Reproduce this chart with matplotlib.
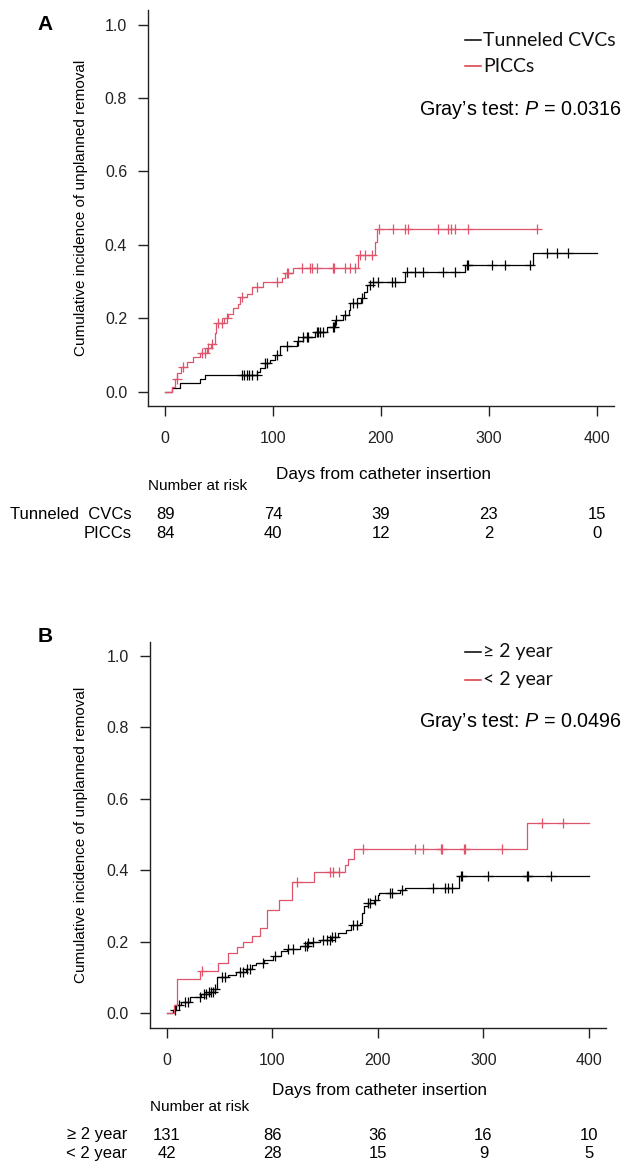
import numpy as np
import matplotlib
matplotlib.use("Agg")
import matplotlib.pyplot as plt
from matplotlib.lines import Line2D
from matplotlib.transforms import blended_transform_factory

plt.rcParams['font.family'] = ['Liberation Sans', 'DejaVu Sans']
plt.rcParams['mathtext.fontset'] = 'custom'
plt.rcParams['mathtext.rm'] = 'Liberation Sans'
plt.rcParams['mathtext.it'] = 'Liberation Sans:italic'

# ---------------- data ----------------
x_ticks = [0, 100, 200, 300, 400]
y_ticks = [0.0, 0.2, 0.4, 0.6, 0.8, 1.0]

# Panel A: Tunneled CVCs (black)
a_cvc_t = [0, 6, 14, 32, 37, 85, 88, 92.5, 97, 102, 106, 122, 128, 139, 150, 157,
           165, 170, 171.5, 181, 184, 187, 190, 222, 278, 341]
a_cvc_v = [0, .011, .023, .034, .046, .054, .064, .077, .086, .100, .124, .139, .150,
           .163, .177, .195, .209, .223, .243, .254, .272, .291, .300, .325, .345, .377]
a_cvc_end = 400
a_cvc_cens = [71, 73, 75.5, 78, 80, 84.8, 92.5, 94, 103.3, 112.6, 123.4, 128, 131, 132.6,
              140.4, 141.9, 143.4, 146.5, 155.8, 156.7, 157.9, 166.7, 174.4, 177.5, 182.2,
              189.9, 193, 197.6, 210, 213, 223.9, 231.6, 239.3, 257.9, 268.7, 279.5, 281,
              302.7, 315, 338.2, 353.7, 363, 373.8]

# Panel A: PICCs (red)
a_picc_t = [0, 6, 9, 11, 15, 20.4, 26, 32, 38.4, 42, 46, 47, 54, 58.5, 63, 67, 69.5,
            75.5, 80, 91, 108, 111, 118, 179, 194.5, 196]
a_picc_v = [0, .012, .036, .050, .068, .082, .094, .106, .118, .130, .159, .186, .200,
            .213, .227, .240, .257, .265, .286, .300, .309, .323, .336, .372, .409, .443]
a_picc_end = 346
a_picc_cens = [10.5, 16.7, 33.7, 36.8, 40, 43, 49.2, 52.3, 57, 70.9, 84.8, 103.3, 112.6,
               114, 126.5, 134.2, 135.7, 140.4, 155.2, 156.5, 166.7, 171.3, 175.9, 180.6,
               185.2, 191.4, 198.5, 210.9, 222.3, 225.4, 252.6, 262.5, 265, 268.7, 281, 344.4]

# Panel B: >= 2 year (black)
b_old_t = [0, 6, 9, 14, 22, 33, 40, 46, 48, 58, 66, 75, 81, 85, 92, 101, 108, 114, 126,
           133, 139, 145, 156, 162, 170, 175, 183, 185, 187, 191, 196, 200, 201, 221, 226, 277]
b_old_v = [0, .008, .023, .031, .046, .055, .061, .069, .102, .107, .116, .125, .135, .140,
           .149, .159, .173, .179, .187, .196, .200, .205, .214, .224, .233, .247, .252,
           .280, .299, .308, .317, .331, .336, .345, .352, .385]
b_old_end = 400
b_old_cens = [8, 12, 17.5, 20.6, 31.6, 35, 37, 40, 42, 44, 46, 52, 55, 69.5, 72.6, 75.8, 79,
              91.6, 102.6, 115, 120, 131, 132.6, 134.2, 139, 148.4, 151.6, 154.7, 156.3,
              159.4, 176.8, 180, 191, 192.6, 197, 211.5, 213, 222.5, 252.5, 263.5, 266.7,
              269.8, 278.4, 280, 304.6, 341, 342.5, 363.6]

# Panel B: < 2 year (red)
b_young_t = [0, 7, 10, 31.6, 49, 58.4, 66.3, 72.6, 80.5, 88.4, 94.8, 106, 119, 140, 169,
             172, 177, 341]
b_young_v = [0, .024, .095, .118, .142, .168, .186, .200, .216, .238, .289, .317, .368,
             .396, .415, .432, .459, .532]
b_young_end = 400
b_young_cens = [33.2, 123.1, 154.7, 157.9, 163.6, 186.2, 235.2, 242.4, 259.8, 260.4,
                281.5, 282.5, 317.8, 355.1, 375]

# numbers at risk
risk_times = [0, 100, 200, 300, 400]
a_groups = ["Tunneled  CVCs", "PICCs"]
a_risk = [[89, 74, 39, 23, 15], [84, 40, 12, 2, 0]]
b_groups = ["\u2265 2 year", "< 2 year"]
b_risk = [[131, 86, 36, 16, 10], [42, 28, 15, 9, 5]]

a_legend = ["Tunneled CVCs", "PICCs"]
b_legend = ["\u2265 2 year", "< 2 year"]
a_p = "0.0316"
b_p = "0.0496"

BLACK = "#000000"
RED = "#DF536B"
LEG_RED = "#D9363E"

# ---------------- figure ----------------
W, H = 625, 1163
fig = plt.figure(figsize=(W / 100, H / 100), dpi=100)


def fy(py):
    return 1 - py / H


axA = fig.add_axes([148 / W, fy(406.4), (614 - 148) / W, (406.4 - 10) / H])
axB = fig.add_axes([149.7 / W, fy(1027.6), (606 - 149.7) / W, (1027.6 - 641.7) / H])


def style(ax):
    ax.set_xlim(-16, 416)
    ax.set_ylim(-0.04, 1.04)
    for s in ("top", "right"):
        ax.spines[s].set_visible(False)
    for s in ("left", "bottom"):
        ax.spines[s].set_linewidth(1.0)
        ax.spines[s].set_color("#222222")
    ax.set_xticks(x_ticks)
    ax.set_xticklabels([str(v) for v in x_ticks])
    ax.set_yticks(y_ticks)
    ax.set_yticklabels([f"{v:.1f}" for v in y_ticks])
    ax.tick_params(direction="out", length=7, width=1.0, labelsize=11.5,
                   colors="#222222")
    ax.tick_params(axis="x", pad=11)
    ax.tick_params(axis="y", pad=8)


def curve(ax, t, v, end, cens, color):
    xs = list(t) + [end]
    ys = list(v) + [v[-1]]
    ax.step(xs, ys, where="post", color=color, lw=0.9)
    tt = np.asarray(t)
    vv = np.asarray(v)
    c = np.asarray(cens)
    idx = np.searchsorted(tt, c, side="right") - 1
    ax.plot(c, vv[idx], ls="none", marker="+", ms=6.5, mew=0.9, color=color)


def panel(ax, letter, ly, legend, p, grays_y, series, groups, risk, tick_y, xlab_y,
          nar_y, row_y, lab_x):
    style(ax)
    for (t, v, end, cens, col) in series:
        curve(ax, t, v, end, cens, col)
    fig.text(45 / W, fy(ly), letter, fontsize=15, fontweight="bold", ha="center",
             va="center")
    # legend
    leg_cols = [BLACK, LEG_RED]
    for i, (lab, col) in enumerate(zip(legend, leg_cols)):
        yy = fy(grays_y[0] + i * grays_y[1])
        fig.add_artist(Line2D([465 / W, 481 / W], [yy, yy], color=col, lw=1.1))
        fig.text(483 / W, yy, lab, fontsize=14, va="center", ha="left",
                 family=["Lato", "DejaVu Sans"], color="#111111")
    fig.text(622 / W, fy(grays_y[2]), "Gray\u2019s test: $\\mathit{P}$ = " + p,
             fontsize=14.2, ha="right", va="center")
    # y label
    pos = ax.get_position()
    fig.text(81 / W, (pos.y0 + pos.y1) / 2, "Cumulative incidence of unplanned removal",
             rotation=90, fontsize=11, ha="center", va="center")
    fig.text((pos.x0 + pos.x1) / 2 + 2 / W, fy(xlab_y), "Days from catheter insertion",
             fontsize=12.3, ha="center", va="center")
    fig.text(pos.x0, fy(nar_y), "Number at risk", fontsize=11, ha="left", va="center")
    trans = blended_transform_factory(ax.transData, fig.transFigure)
    for gi, (g, row) in enumerate(zip(groups, risk)):
        yy = fy(row_y[gi])
        fig.text(lab_x / W, yy, g, fontsize=12, ha="right", va="center")
        for tx, n in zip(risk_times, row):
            fig.text(tx, yy, str(n), fontsize=12, ha="center", va="center",
                     transform=trans)


panel(axA, "A", 25, a_legend, a_p, (40, 26, 110),
      [(a_cvc_t, a_cvc_v, a_cvc_end, a_cvc_cens, BLACK),
       (a_picc_t, a_picc_v, a_picc_end, a_picc_cens, RED)],
      a_groups, a_risk, 437, 475, 486, (515, 533), 131.5)

panel(axB, "B", 637, b_legend, b_p, (652, 27.5, 722),
      [(b_old_t, b_old_v, b_old_end, b_old_cens, BLACK),
       (b_young_t, b_young_v, b_young_end, b_young_cens, RED)],
      b_groups, b_risk, 1059, 1090, 1106.7, (1135, 1153.3), 127.5)

fig.savefig("out.png", dpi=100, facecolor="white")
